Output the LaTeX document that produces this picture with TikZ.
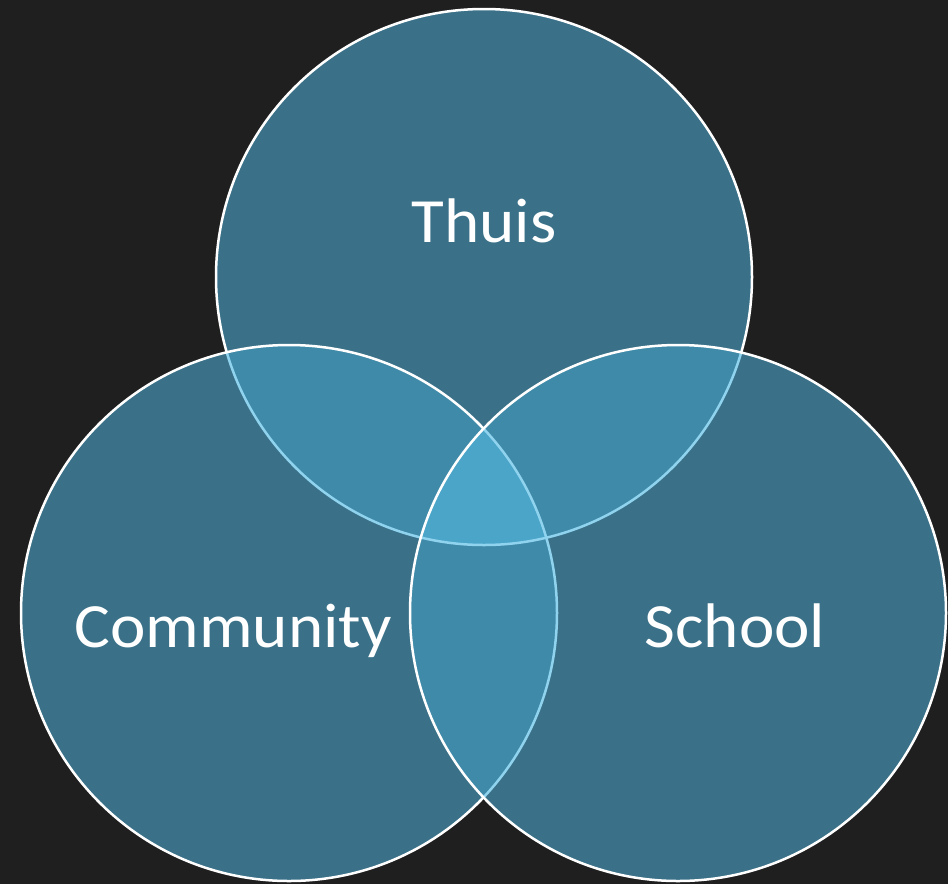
\documentclass[tikz,border=0pt]{standalone}
\usepackage{fontspec}
\setmainfont{Carlito}[FakeStretch=1.065]
\definecolor{bgc}{HTML}{1F1F1F}
\definecolor{sone}{HTML}{3A7188}
\definecolor{stwo}{HTML}{3F8AA8}
\definecolor{sthree}{HTML}{4AA5C8}
\definecolor{hidden}{HTML}{8FD3EE}
\begin{document}
\begin{tikzpicture}[x=1pt,y=-1pt,
  edge/.style={draw=white,line width=2.5pt},
  covered/.style={draw=hidden,line width=2.5pt},
  label/.style={text=white,font=\fontsize{63}{63}\selectfont,anchor=base,inner sep=0pt}]
\def\R{268}
\coordinate (T) at (484,277);
\coordinate (C) at (289,613);
\coordinate (S) at (678,613);
\fill[bgc] (0,0) rectangle (948,884);
\useasboundingbox (0,0) rectangle (948,884);
% Thuis
\fill[sone] (T) circle[radius=\R];
\draw[edge] (T) circle[radius=\R];
% Community
\fill[sone] (C) circle[radius=\R];
\begin{scope}
  \clip (C) circle[radius=\R];
  \fill[stwo] (T) circle[radius=\R];
  \draw[covered] (T) circle[radius=\R];
\end{scope}
\draw[edge] (C) circle[radius=\R];
% School
\fill[sone] (S) circle[radius=\R];
\begin{scope}
  \clip (S) circle[radius=\R];
  \fill[stwo] (T) circle[radius=\R];
  \fill[stwo] (C) circle[radius=\R];
  \begin{scope}
    \clip (T) circle[radius=\R];
    \fill[sthree] (C) circle[radius=\R];
  \end{scope}
  \draw[covered] (T) circle[radius=\R];
  \draw[covered] (C) circle[radius=\R];
\end{scope}
\draw[edge] (S) circle[radius=\R];
% labels
\node[label] (thuis) at (484,242) {Thuis};
\node[label] (community) at (233,647) {Community};
\node[label] (school) at (735,647) {School};
\end{tikzpicture}
\end{document}
